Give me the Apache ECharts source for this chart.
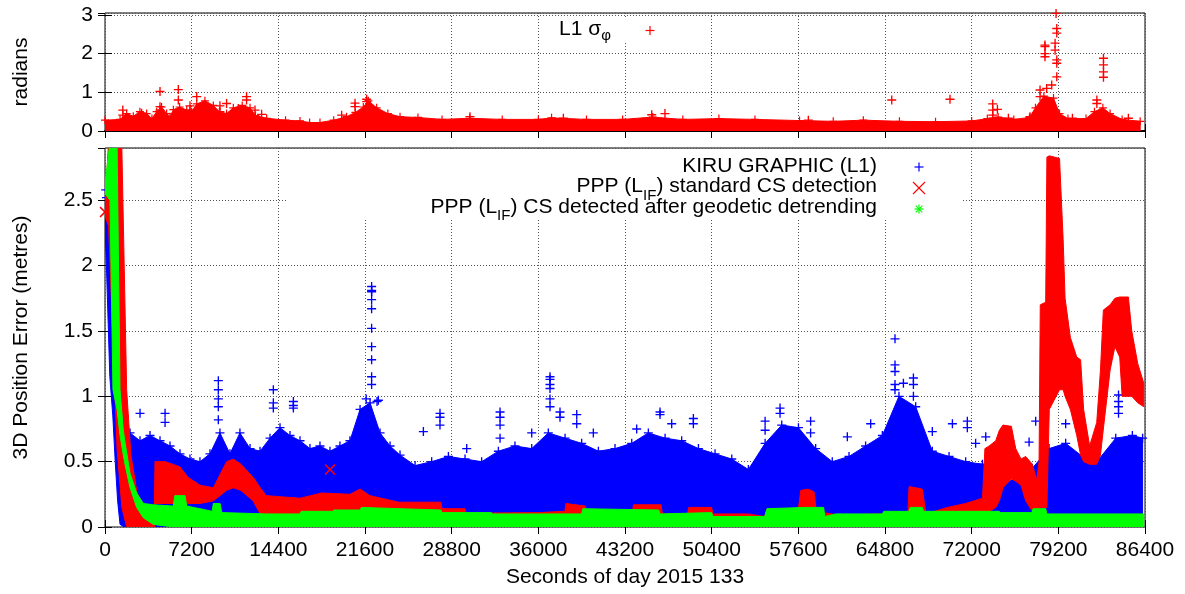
<!DOCTYPE html>
<html>
<head>
<meta charset="utf-8">
<script src="https://cdn.jsdelivr.net/npm/echarts@6/dist/echarts.min.js"></script>
<style>
  html, body { margin: 0; padding: 0; background: #fff; }
  #chart { width: 1185px; height: 594px; }
</style>
</head>
<body>
<div id="chart"></div>
<script>
// x ticks (seconds of day)
var xTicks = [0, 7200, 14400, 21600, 28800, 36000, 43200, 50400, 57600, 64800, 72000, 79200, 86400];

// top panel: L1 sigma-phi, rows are [t, low, high] of the dense red band
var sigmaBand = [
  [0, 0, 0.28], [1250, 0, 0.3], [1800, 0, 0.45], [2350, 0, 0.38], [2900, 0, 0.5],
  [3460, 0, 0.45], [3900, 0, 0.32], [4290, 0, 0.5], [4700, 0, 0.62], [5120, 0, 0.45],
  [5400, 0, 0.37], [5680, 0, 0.55], [6200, 0, 0.62], [6790, 0, 0.54], [7200, 0, 0.5],
  [7620, 0, 0.7], [8300, 0, 0.78], [9000, 0, 0.66], [9500, 0, 0.5], [10100, 0, 0.45],
  [10660, 0, 0.6], [11400, 0, 0.66], [12050, 0, 0.6], [12500, 0, 0.4], [13430, 0, 0.33],
  [15000, 0, 0.28], [16200, 0, 0.26], [17000, 0, 0.22], [17860, 0, 0.22], [19000, 0, 0.28],
  [20070, 0, 0.37], [20800, 0, 0.48], [21460, 0, 0.62], [21880, 0, 0.78], [22570, 0, 0.6],
  [23500, 0, 0.45], [24510, 0, 0.37], [26000, 0, 0.35], [28000, 0, 0.3], [30300, 0, 0.33],
  [33000, 0, 0.3], [36000, 0, 0.3], [37100, 0, 0.34], [40000, 0, 0.3], [43000, 0, 0.3],
  [45500, 0, 0.36], [48000, 0, 0.3], [51000, 0, 0.32], [54000, 0, 0.3], [57700, 0, 0.27],
  [60500, 0, 0.25], [63000, 0, 0.28], [66000, 0, 0.25], [69000, 0, 0.24], [72000, 0, 0.26],
  [73300, 0, 0.32], [74200, 0, 0.36], [75500, 0, 0.3], [76800, 0, 0.35], [77300, 0, 0.6],
  [78000, 0, 0.9], [78800, 0, 0.85], [79300, 0, 0.45], [80000, 0, 0.32], [81500, 0, 0.32],
  [82200, 0, 0.5], [82900, 0, 0.6], [83500, 0, 0.45], [84500, 0, 0.3], [86000, 0, 0.25]
];
// isolated sigma-phi points
var sigmaSpikes = [
  [1480, 0.54], [1480, 0.41], [3040, 0.46], [4570, 1.02], [4570, 0.63], [4570, 0.54],
  [6090, 1.07], [6090, 0.8], [7060, 0.65], [7060, 0.54], [7620, 0.89], [9550, 0.65],
  [9550, 0.5], [10100, 0.71], [11070, 0.58], [11760, 0.89], [11760, 0.8], [12460, 0.54],
  [13010, 0.43], [19660, 0.41], [20770, 0.72], [20770, 0.63], [21740, 0.82], [21740, 0.76],
  [30320, 0.37], [38080, 0.33], [45420, 0.42], [46520, 0.45], [58430, 0.28],
  [65360, 0.8], [70200, 0.82], [73750, 0.7], [73750, 0.54], [73750, 0.41], [73750, 0.33],
  [74140, 0.56], [75050, 0.33], [76850, 0.37], [77680, 0.89], [77680, 1.06],
  [78090, 2.22], [78090, 2.18], [78090, 2.0], [78090, 1.92], [78230, 1.1], [78650, 1.19],
  [79010, 3.04], [79070, 2.65], [79070, 2.53], [78930, 2.27], [78930, 2.09],
  [79070, 1.84], [79070, 1.75], [79070, 1.4], [80370, 0.33], [82400, 0.8], [82400, 0.71],
  [82950, 1.88], [82950, 1.71], [82950, 1.53], [82950, 1.39], [85020, 0.33]
];

// bottom panel: KIRU GRAPHIC (L1), [t, low, high]
var kiruBand = [
  [0, 2.3, 2.55], [150, 1.9, 2.5], [400, 1.15, 2.3], [650, 0.85, 1.9], [850, 0.5, 1.5],
  [1050, 0.2, 1.2], [1250, 0.02, 1.0], [1600, 0, 0.85], [2080, 0, 0.72], [2910, 0, 0.66],
  [3740, 0, 0.7], [4570, 0, 0.66], [5400, 0, 0.62], [6230, 0, 0.56], [7060, 0.02, 0.52],
  [7890, 0.02, 0.5], [8720, 0.02, 0.56], [9550, 0.02, 0.72], [10380, 0.02, 0.56],
  [11210, 0.02, 0.72], [12050, 0.02, 0.6], [12880, 0.02, 0.58], [13710, 0.02, 0.68],
  [14540, 0.02, 0.76], [15370, 0.02, 0.7], [16200, 0.02, 0.66], [17030, 0.02, 0.6],
  [17860, 0.02, 0.62], [18690, 0.02, 0.58], [19520, 0.02, 0.62], [20350, 0.02, 0.66],
  [21190, 0.02, 0.9], [22020, 0.02, 0.95], [22850, 0.02, 0.72], [23680, 0.02, 0.62],
  [24510, 0.02, 0.55], [25760, 0.02, 0.47], [27140, 0.02, 0.5], [28530, 0.02, 0.54],
  [29910, 0.02, 0.52], [31290, 0.02, 0.5], [32680, 0.02, 0.58], [34060, 0.02, 0.62],
  [35450, 0.02, 0.6], [36830, 0.02, 0.72], [38220, 0.02, 0.68], [39600, 0.02, 0.64],
  [40990, 0.02, 0.58], [42370, 0.02, 0.6], [43760, 0.02, 0.64], [45140, 0.02, 0.72],
  [46530, 0.02, 0.68], [47910, 0.02, 0.66], [49300, 0.02, 0.6], [50680, 0.02, 0.56],
  [52070, 0.02, 0.52], [53450, 0.02, 0.44], [54840, 0.02, 0.64], [56220, 0.02, 0.78],
  [57610, 0.02, 0.76], [59040, 0.02, 0.6], [60420, 0.02, 0.5], [61810, 0.02, 0.54],
  [63190, 0.02, 0.62], [64580, 0.02, 0.7], [65960, 0.02, 1.0], [67350, 0.02, 0.92],
  [68730, 0.02, 0.58], [70120, 0.02, 0.54], [71500, 0.02, 0.5], [72890, 0.02, 0.48],
  [74270, 0.02, 0.34], [75660, 0.02, 0.36], [77040, 0.02, 0.45], [78430, 0.02, 0.6],
  [79810, 0.02, 0.64], [81200, 0.02, 0.54], [82580, 0.02, 0.52], [83970, 0.02, 0.68],
  [85350, 0.02, 0.7], [86200, 0.02, 0.68]
];
var kiruSpikes = [
  [60, 2.58], [120, 2.52], [2910, 0.87], [4990, 0.87], [4990, 0.8],
  [9415, 1.12], [9415, 1.05], [9415, 0.98], [9415, 0.92], [9415, 0.82],
  [13985, 1.05], [13985, 0.95], [13985, 0.91], [15650, 0.96], [15650, 0.93], [15650, 0.91],
  [22150, 1.84], [22150, 1.81], [22150, 1.8], [22150, 1.74], [22150, 1.67], [22150, 1.52],
  [22150, 1.38], [22150, 1.28], [22150, 1.15], [22150, 1.09], [21700, 0.98], [22600, 0.96],
  [22710, 0.97], [26450, 0.73], [27830, 0.87], [27830, 0.84], [27830, 0.78], [30050, 0.6],
  [32820, 0.88], [32820, 0.84], [32820, 0.78], [32820, 0.68], [35450, 0.72],
  [36970, 1.15], [36970, 1.13], [36970, 1.09], [36970, 1.06], [36970, 0.98], [36970, 0.92],
  [37800, 0.88], [37800, 0.84], [39190, 0.86], [39190, 0.79], [40570, 0.72], [44170, 0.75],
  [46110, 0.88], [46110, 0.86], [47080, 0.79], [48880, 0.83], [48880, 0.79],
  [54840, 0.81], [54840, 0.74], [56080, 0.91], [56080, 0.87], [58620, 0.81], [58620, 0.72],
  [61670, 0.69], [63610, 0.79], [65630, 1.44], [65630, 1.24], [65630, 1.19], [65630, 1.09],
  [65630, 1.05], [66330, 1.1], [67160, 1.14], [67160, 1.09], [67160, 1.0],
  [68730, 0.73], [70400, 0.79], [71640, 0.81], [71640, 0.76], [72330, 0.64], [73170, 0.69],
  [76770, 0.65], [77320, 0.81], [79810, 0.79], [84200, 1.01], [84200, 0.96], [84200, 0.92],
  [84200, 0.87], [85770, 0.61]
];

// PPP (L_IF) standard CS detection, [t, low, high]
var stdBand = [
  [0, 2.38, 2.44], [300, 2.3, 2.95], [1000, 0.6, 2.95], [1400, 0.15, 2.9], [1800, 0, 1.05],
  [2150, 0, 0.55], [2650, 0, 0.27], [3200, 0, 0.14], [3750, 0, 0.1], [4100, 0, 0.12],
  [4150, 0.18, 0.5], [5000, 0.18, 0.5], [6230, 0.18, 0.46], [6900, 0.18, 0.38],
  [7890, 0.18, 0.32], [9000, 0.2, 0.3], [10100, 0.28, 0.5], [10660, 0.3, 0.52],
  [11300, 0.28, 0.48], [12300, 0.2, 0.38], [12900, 0.1, 0.3], [13400, 0.05, 0.24],
  [16200, 0.05, 0.22], [18000, 0.05, 0.26], [20350, 0.05, 0.25], [21200, 0.05, 0.29],
  [22000, 0.05, 0.24], [24400, 0.05, 0.19], [27900, 0.05, 0.19], [28000, 0.05, 0.14],
  [29900, 0.03, 0.14], [30000, 0.03, 0.105], [36000, 0.03, 0.11], [38200, 0.03, 0.12],
  [38300, 0.03, 0.18], [39900, 0.03, 0.16], [40000, 0.03, 0.12], [42400, 0, 0.1],
  [43800, 0, 0.1], [43900, 0, 0.17], [46200, 0, 0.17], [46300, 0, 0.1], [48400, 0, 0.1],
  [48500, 0, 0.15], [50400, 0, 0.15], [50500, 0, 0.1], [53400, 0, 0.1], [54800, 0, 0.08],
  [55000, 0, 0.14], [57600, 0, 0.14], [57800, 0, 0.28], [58400, 0, 0.29], [58900, 0, 0.27],
  [59100, 0, 0.12], [61000, 0, 0.09], [64500, 0, 0.1], [66700, 0, 0.11], [66800, 0, 0.31],
  [67900, 0, 0.29], [68200, 0, 0.1], [70000, 0, 0.15], [71500, 0, 0.18], [72900, 0, 0.22],
  [73100, 0.1, 0.6], [73450, 0.12, 0.62], [74000, 0.15, 0.66], [74300, 0.2, 0.74],
  [74600, 0.3, 0.78], [75300, 0.37, 0.77], [75660, 0.35, 0.6], [76100, 0.32, 0.52],
  [76490, 0.2, 0.54], [77040, 0.12, 0.48], [77400, 0.12, 0.36], [77600, 0.13, 0.5],
  [77700, 0.15, 1.7], [78150, 0.15, 1.72], [78250, 0.15, 2.83], [78450, 0.9, 2.84],
  [79300, 1.05, 2.82], [79600, 1.05, 2.2], [79760, 1.0, 1.75], [80200, 0.9, 1.45],
  [80730, 0.7, 1.3], [81050, 0.55, 1.28], [81300, 0.5, 0.9], [81800, 0.48, 0.62],
  [82390, 0.48, 0.8], [82700, 0.55, 1.2], [82940, 0.75, 1.66], [83500, 1.2, 1.7],
  [83900, 1.38, 1.75], [84300, 1.3, 1.76], [84500, 1.0, 1.76], [85020, 1.0, 1.76],
  [85300, 1.0, 1.5], [85800, 0.95, 1.25], [86300, 0.92, 1.1]
];
var stdOutliers = [[0, 2.41], [18700, 0.44]];

// PPP (L_IF) CS detected after geodetic detrending, [t, low, high]
var detrBand = [
  [0, 2.55, 2.62], [415, 2.5, 2.95], [660, 1.05, 2.95], [1000, 0.9, 2.95], [1250, 0.7, 1.05],
  [1520, 0.55, 0.74], [1660, 0.48, 0.65], [2080, 0.3, 0.41], [2630, 0.15, 0.26],
  [3190, 0.07, 0.18], [4010, 0.02, 0.17], [5670, 0, 0.16], [5800, 0, 0.24], [6650, 0, 0.24],
  [6790, 0, 0.16], [7890, 0, 0.14], [8900, 0, 0.12], [9000, 0, 0.18], [9560, 0, 0.18],
  [9700, 0, 0.11], [13430, 0, 0.1], [16200, 0, 0.1], [16300, 0, 0.12], [18970, 0, 0.12],
  [19000, 0, 0.13], [21190, 0, 0.13], [21300, 0, 0.15], [24500, 0, 0.14], [27900, 0, 0.13],
  [28000, 0, 0.11], [32100, 0, 0.11], [32200, 0, 0.1], [39600, 0, 0.1], [39700, 0, 0.14],
  [46000, 0, 0.13], [46100, 0, 0.1], [50400, 0, 0.11], [50500, 0, 0.08], [54800, 0, 0.08],
  [55000, 0, 0.14], [58200, 0, 0.15], [59700, 0, 0.15], [59800, 0, 0.08], [60700, 0, 0.1],
  [64580, 0, 0.1], [64700, 0, 0.12], [66800, 0, 0.12], [66900, 0, 0.15], [67900, 0, 0.15],
  [68000, 0, 0.12], [74270, 0, 0.12], [74400, 0, 0.11], [77000, 0, 0.11], [77100, 0, 0.14],
  [78150, 0, 0.14], [78250, 0, 0.1], [86300, 0, 0.1]
];

var FONT = '"Liberation Sans", Arial, sans-serif';
var FS = 21, SUB = 15;
var BLUE = '#0000ff', RED = '#ff0000', GREEN = '#00ff00';
var PLUS = 'path://M3.4,0H4.6V3.4H8V4.6H4.6V8H3.4V4.6H0V3.4H3.4Z';
var CROSS = 'path://M0,0.8L0.8,0L4,3.2L7.2,0L8,0.8L4.8,4L8,7.2L7.2,8L4,4.8L0.8,8L0,7.2L3.2,4Z';

// filled band between low and high edges
function band(name, rows, color, ax, z) {
    return {
        name: name, type: 'custom', xAxisIndex: ax, yAxisIndex: ax, z: z,
        clip: true, silent: true,
        data: rows,
        encode: { x: 0, y: [1, 2] },
        renderItem: function (params, api) {
            if (params.dataIndex !== 0) return null;
            var top = rows.map(function (r) { return api.coord([r[0], r[2]]); });
            var bot = rows.map(function (r) { return api.coord([r[0], r[1]]); }).reverse();
            return {
                type: 'polygon',
                shape: { points: top.concat(bot) },
                style: { fill: color, stroke: color, lineWidth: 1 }
            };
        }
    };
}
function marks(rows, symbol, size, color, ax, z) {
    return {
        type: 'scatter', xAxisIndex: ax, yAxisIndex: ax, z: z, silent: true,
        data: rows, symbol: symbol, symbolSize: size,
        itemStyle: { color: color, opacity: 1 }
    };
}
function edge(rows) {
    return rows.map(function (r) { return [r[0], r[2]]; });
}

// key text with a subscript, right aligned at x
var ctx = document.createElement('canvas').getContext('2d');
function textW(s, size) {
    ctx.font = size + 'px ' + FONT;
    return ctx.measureText(s).width;
}
function keyText(x, y, pre, sub, post, subDy) {
    var w2 = textW(post, FS), ws = textW(sub, SUB);
    var st = function (s, size) {
        return { text: s, align: 'right', verticalAlign: 'middle', fontSize: size, fontFamily: FONT, fill: '#000' };
    };
    return [
        { type: 'text', z: 10, x: x, y: y, style: st(post, FS) },
        { type: 'text', z: 10, x: x - w2, y: y + subDy, style: st(sub, SUB) },
        { type: 'text', z: 10, x: x - w2 - ws, y: y, style: st(pre, FS) }
    ];
}
function plus(cx, cy, color) {
    return [
        { type: 'line', z: 10, shape: { x1: cx - 4.5, y1: cy, x2: cx + 4.5, y2: cy }, style: { stroke: color, lineWidth: 1.2 } },
        { type: 'line', z: 10, shape: { x1: cx, y1: cy - 4.5, x2: cx, y2: cy + 4.5 }, style: { stroke: color, lineWidth: 1.2 } }
    ];
}
function cross(cx, cy, r, color) {
    return [
        { type: 'line', z: 10, shape: { x1: cx - r, y1: cy - r, x2: cx + r, y2: cy + r }, style: { stroke: color, lineWidth: 1.1 } },
        { type: 'line', z: 10, shape: { x1: cx + r, y1: cy - r, x2: cx - r, y2: cy + r }, style: { stroke: color, lineWidth: 1.1 } }
    ];
}

var grid = { color: '#555', type: [1, 2], width: 1 };
var tick = { show: true, inside: true, length: 7, lineStyle: { color: '#000' } };
var lbl = { color: '#000', fontSize: FS, fontFamily: FONT };

function xAx(gi, pos, labels) {
    return {
        type: 'value', gridIndex: gi, position: pos, min: 0, max: 86400, interval: 7200,
        axisLine: { show: pos === 'bottom' && gi === 0, lineStyle: { color: '#000', width: 2 } },
        axisTick: tick,
        axisLabel: labels ? Object.assign({ margin: 13, formatter: function (v) { return String(v); } }, lbl) : { show: false },
        splitLine: { show: pos === 'bottom', lineStyle: grid },
        name: labels ? 'Seconds of day 2015 133' : '',
        nameLocation: 'middle', nameGap: 40,
        nameTextStyle: lbl
    };
}
function yAx(gi, pos, max, step, name) {
    return {
        type: 'value', gridIndex: gi, position: pos, min: 0, max: max, interval: step,
        axisLine: { show: false },
        axisTick: tick,
        axisLabel: name ? Object.assign({ margin: 12, showMaxLabel: false }, lbl) : { show: false },
        splitLine: { show: pos === 'left', lineStyle: grid },
        name: name || '', nameLocation: 'middle', nameGap: 73,
        nameTextStyle: lbl
    };
}

var graphics = [
    // key boxes hide the grid lines behind the text
    { type: 'rect', z: 1, silent: true, shape: { x: 548, y: 17, width: 115, height: 24 }, style: { fill: '#fff' } },
    { type: 'rect', z: 1, silent: true, shape: { x: 288, y: 149, width: 674, height: 71 }, style: { fill: '#fff' } },
    { type: 'text', z: 10, x: 877, y: 166.5, style: {
        text: 'KIRU GRAPHIC (L1)', align: 'right', verticalAlign: 'middle',
        fontSize: FS, fontFamily: FONT, fill: '#000' } }
]
    .concat(keyText(611, 29.5, 'L1 σ', 'φ', '', 6))
    .concat(keyText(877, 186.5, 'PPP (L', 'IF', ') standard CS detection', 9))
    .concat(keyText(877, 207, 'PPP (L', 'IF', ') CS detected after geodetic detrending', 9))
    .concat(plus(650, 30.5, RED))
    .concat(plus(919, 167, BLUE))
    .concat(cross(919, 188, 6, RED))
    .concat(plus(919, 209, GREEN))
    .concat(cross(919, 209, 3.3, GREEN));

var chart = echarts.init(document.getElementById('chart'));
chart.setOption({
    animation: false,
    backgroundColor: '#fff',
    grid: [
        { left: 105, width: 1040, top: 13, height: 118, show: true, borderColor: '#000', borderWidth: 1, backgroundColor: 'transparent' },
        { left: 105, width: 1040, top: 148, height: 379, show: true, borderColor: '#000', borderWidth: 1, backgroundColor: 'transparent' }
    ],
    xAxis: [xAx(0, 'bottom', false), xAx(0, 'top', false), xAx(1, 'bottom', true), xAx(1, 'top', false)],
    yAxis: [
        yAx(0, 'left', 3.05, 1, 'radians'), yAx(0, 'right', 3.05, 1),
        yAx(1, 'left', 2.9, 0.5, '3D Position Error (metres)'), yAx(1, 'right', 2.9, 0.5)
    ],
    series: [
        band('L1 sigma phi', sigmaBand, RED, 0, 2),
        marks(edge(sigmaBand), PLUS, 8, RED, 0, 3),
        marks(sigmaSpikes, PLUS, 9, RED, 0, 3),
        band('KIRU GRAPHIC (L1)', kiruBand, BLUE, 2, 2),
        marks(edge(kiruBand).slice(6), PLUS, 9, BLUE, 2, 2),
        marks(kiruSpikes, PLUS, 9, BLUE, 2, 2),
        band('PPP (LIF) standard CS detection', stdBand, RED, 2, 3),
        marks(stdOutliers, CROSS, 11, RED, 2, 3),
        band('PPP (LIF) CS detected after geodetic detrending', detrBand, GREEN, 2, 4)
    ],
    graphic: graphics
});
</script>
</body>
</html>
